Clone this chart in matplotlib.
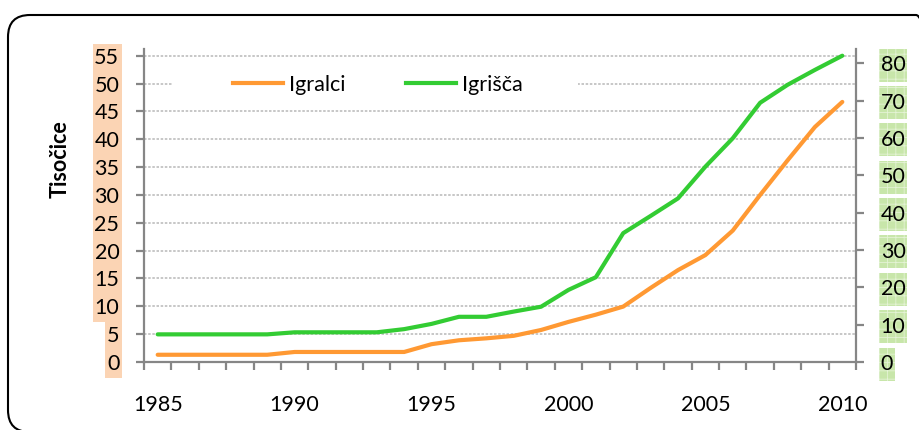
import numpy as np
import matplotlib
matplotlib.use("Agg")
import matplotlib.pyplot as plt
from matplotlib.patches import Rectangle, FancyBboxPatch
from matplotlib.transforms import IdentityTransform
from matplotlib.lines import Line2D

plt.rcParams['font.family'] = ['Lato', 'DejaVu Sans']
plt.rcParams['hatch.linewidth'] = 0.6

# ---- data ----
years = list(range(1985, 2011))
igralci = [1.3, 1.3, 1.3, 1.3, 1.3, 1.8, 1.8, 1.8, 1.8, 1.8,
           3.2, 3.9, 4.25, 4.7, 5.75, 7.2, 8.5, 9.95, 13.3, 16.5,
           19.2, 23.6, 30.0, 36.2, 42.2, 46.7]
igrisca = [7.4, 7.4, 7.4, 7.4, 7.4, 7.95, 7.95, 7.95, 7.95, 8.8,
           10.2, 12.1, 12.1, 13.5, 14.8, 19.3, 22.7, 34.5, 39.1, 43.8,
           52.3, 59.9, 69.4, 74.2, 78.2, 82.0]
left_ticks = list(range(0, 56, 5))
right_ticks = list(range(0, 81, 10))
year_labels = [1985, 1990, 1995, 2000, 2005, 2010]
series_names = ["Igralci", "Igrišča"]
ylabel = "Tisočice"

ORANGE = '#FF9933'
GREEN = '#33CC33'
AXC = '#868686'
FS = 15.5

W, H = 920, 430
fig = plt.figure(figsize=(W / 100, H / 100), dpi=100)
ax = fig.add_axes([144 / W, 68 / H, 712 / W, 313 / H])
ax2 = ax.twinx()

ax.set_xlim(years[0] - 0.5, years[-1] + 0.5)
ax.set_ylim(0, 56.2)
ax2.set_ylim(0, 56.2 * 1.491)

ax.plot(years, igralci, color=ORANGE, lw=3, solid_capstyle='round', zorder=3)
ax2.plot(years, igrisca, color=GREEN, lw=3, solid_capstyle='round', zorder=3)

# grid
ax.set_axisbelow(True)
ax.set_yticks(left_ticks)
for v in left_ticks[1:]:
    ax.axhline(v, color='#bdbdbd', lw=1.2, ls=(0, (1.5, 1)), zorder=0.5)

ax2.set_yticks(right_ticks)

# x ticks
ax.set_xticks(year_labels)
ax.set_xticklabels([str(y) for y in year_labels])
ax.set_xticks(np.arange(years[0] - 0.5, years[-1] + 1.0, 1.0), minor=True)
ax.tick_params(axis='x', which='major', length=0, pad=24, labelsize=FS)
ax.tick_params(axis='x', which='minor', length=5.8, width=1.6, color=AXC, direction='out')
ax.tick_params(axis='y', which='major', length=5.8, width=1.6, color=AXC, pad=12, labelsize=FS)
ax2.tick_params(axis='y', which='major', length=5.8, width=1.6, color=AXC, pad=12, labelsize=FS)

for a in (ax, ax2):
    for s in a.spines.values():
        s.set_visible(False)
ax.spines['left'].set_visible(True)
ax.spines['bottom'].set_visible(True)
ax2.spines['right'].set_visible(True)
for s in (ax.spines['left'], ax.spines['bottom'], ax2.spines['right']):
    s.set_color(AXC)
    s.set_linewidth(1.6)

# legend with white backdrop
ax.add_patch(Rectangle((28 / 712, 0.824), 406 / 712, 0.128, transform=ax.transAxes,
                       facecolor='white', edgecolor='none', zorder=1.5))
handles = [Line2D([], [], color=ORANGE, lw=3), Line2D([], [], color=GREEN, lw=3)]
ax2.legend(handles, series_names, loc='center', bbox_to_anchor=(0.329, 0.885),
           ncol=2, frameon=False, fontsize=FS, handlelength=2.33,
           handletextpad=0.28, columnspacing=2.8)

fig.text(60 / W, (H - 159) / H, ylabel, rotation=90, ha='center', va='center',
         fontsize=FS, fontweight='bold')

# figure border
fig.patches.append(FancyBboxPatch((8, -2), 930, 417, boxstyle='round,pad=0,rounding_size=22',
                                  transform=IdentityTransform(), facecolor='none',
                                  edgecolor='black', lw=1.5, zorder=10))

# tick label backgrounds
fig.canvas.draw()
r = fig.canvas.get_renderer()
dy_left = ax.transData.transform((0, 5))[1] - ax.transData.transform((0, 0))[1]
for lab in ax.get_yticklabels():
    if not lab.get_visible() or lab.get_text() == '':
        continue
    bb = lab.get_window_extent(r)
    cy = (bb.y0 + bb.y1) / 2
    rect = Rectangle((bb.x0 - 1.5, cy - dy_left / 2), bb.width + 4, dy_left,
                     transform=IdentityTransform(), facecolor='#FBD4B4', edgecolor='none', zorder=-1)
    fig.patches.append(rect)
for lab in ax2.get_yticklabels():
    if not lab.get_visible() or lab.get_text() == '':
        continue
    bb = lab.get_window_extent(r)
    cy = (bb.y0 + bb.y1) / 2
    rect = Rectangle((bb.x0 - 1.5, cy - 16.5), bb.width + 3, 33,
                     transform=IdentityTransform(), facecolor='#c8e6aa', edgecolor='#e4f3d5',
                     hatch='++', lw=0, zorder=-1)
    fig.patches.append(rect)

fig.savefig('out.png', dpi=100)
